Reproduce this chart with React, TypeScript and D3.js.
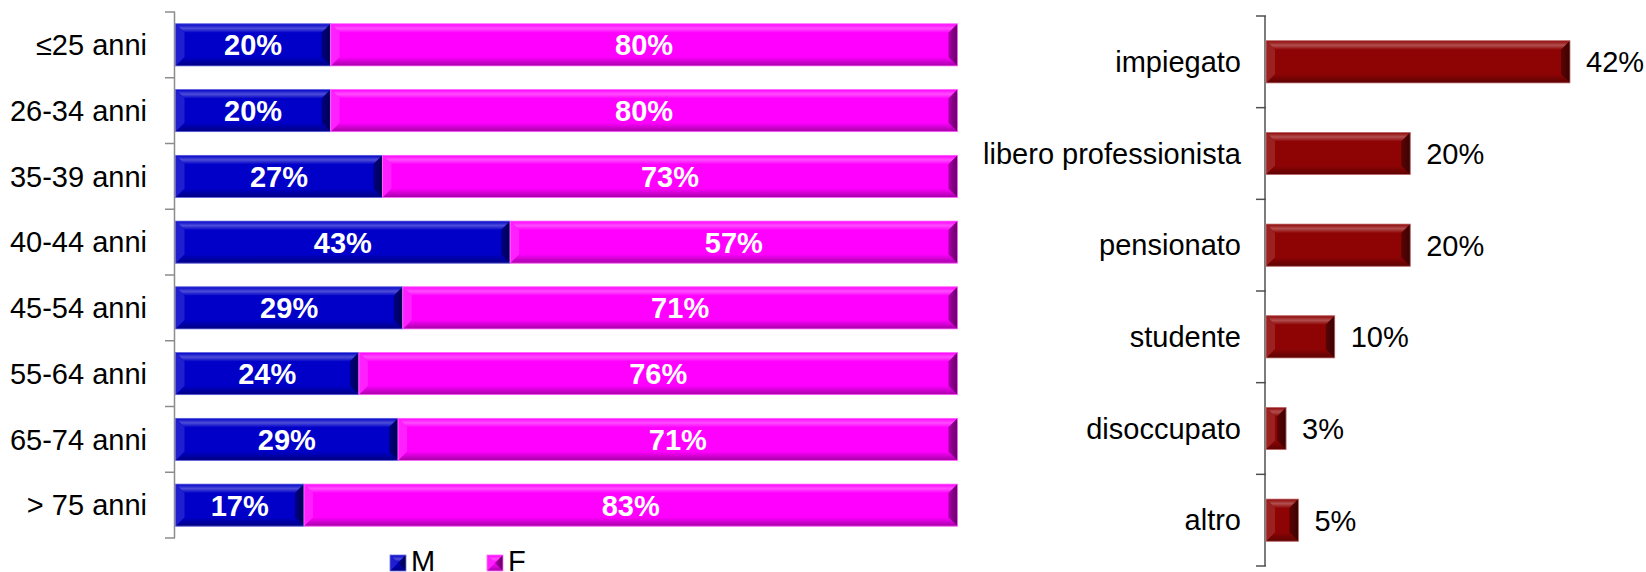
import React from "react";
import * as d3 from "d3";

const ageCategories = ["≤25 anni", "26-34 anni", "35-39 anni", "40-44 anni", "45-54 anni", "55-64 anni", "65-74 anni", "> 75 anni"];
const maleShare = [20, 20, 26.6, 42.9, 29.2, 23.6, 28.6, 16.6];
const femaleShare = [80, 80, 73.4, 57.1, 70.8, 76.4, 71.4, 83.4];
const seriesNames = ["M", "F"];

const jobCategories = ["impiegato", "libero professionista", "pensionato", "studente", "disoccupato", "altro"];
const jobShare = [42, 20, 20, 9.6, 2.9, 4.6];

const BLUE = "#0000c8";
const MAGENTA = "#ff00ff";
const RED = "#8e0404";
const FONT = "'Liberation Sans', Arial, sans-serif";

function Bevel({ x, y, w, h, color, id }: { x: number; y: number; w: number; h: number; color: string; id: string }) {
  const b = Math.min(9, w / 2, h / 2);
  const light = d3.interpolateRgb(color, "#ffffff")(0.3);
  const lightish = d3.interpolateRgb(color, "#ffffff")(0.12);
  const dark = d3.interpolateRgb(color, "#000000")(0.35);
  const darkest = d3.interpolateRgb(color, "#000000")(0.6);
  const edge = d3.interpolateRgb(color, "#ffffff")(0.45);
  const pts = (arr: number[][]) => arr.map((p) => p.join(",")).join(" ");
  return (
    <g>
      <defs>
        <linearGradient id={id + "t"} x1="0" y1="0" x2="0" y2="1">
          <stop offset="0" stopColor={color} />
          <stop offset="0.5" stopColor={light} />
          <stop offset="1" stopColor={color} />
        </linearGradient>
        <linearGradient id={id + "b"} x1="0" y1="0" x2="0" y2="1">
          <stop offset="0" stopColor={color} />
          <stop offset="1" stopColor={dark} />
        </linearGradient>
        <linearGradient id={id + "r"} x1="0" y1="0" x2="1" y2="0">
          <stop offset="0" stopColor={dark} />
          <stop offset="1" stopColor={darkest} />
        </linearGradient>
      </defs>
      <rect x={x} y={y} width={w} height={h} fill={color} />
      <polygon points={pts([[x, y], [x + w, y], [x + w - b, y + b], [x + b, y + b]])} fill={`url(#${id}t)`} />
      <polygon points={pts([[x, y + h], [x + w, y + h], [x + w - b, y + h - b], [x + b, y + h - b]])} fill={`url(#${id}b)`} />
      <polygon points={pts([[x, y], [x + b, y + b], [x + b, y + h - b], [x, y + h]])} fill={lightish} />
      <polygon points={pts([[x + w, y], [x + w - b, y + b], [x + w - b, y + h - b], [x + w, y + h]])} fill={`url(#${id}r)`} />
      <rect x={x} y={y} width={w} height={h} fill="none" stroke={edge} strokeWidth={0.8} />
    </g>
  );
}

export default function App() {
  // Left chart
  const yL = d3.scaleBand<string>().domain(ageCategories).range([12, 538]).paddingInner(0.36).paddingOuter(0.18);
  const xL = d3.scaleLinear().domain([0, 100]).range([174, 957.5]);
  const stepL = yL.step();
  const leftTicks = d3.range(ageCategories.length + 1).map((i) => 12 + i * stepL);

  // Right chart
  const yR = d3.scaleBand<string>().domain(jobCategories).range([16, 566]).paddingInner(0.54).paddingOuter(0.27);
  const xR = d3.scaleLinear().domain([0, 42]).range([1265, 1570]);
  const stepR = yR.step();
  const rightTicks = d3.range(jobCategories.length + 1).map((i) => 16 + i * stepR);

  const fs = 29;

  return (
    <svg width={1646} height={572} style={{ position: "absolute", left: 0, top: 0 }} fontFamily={FONT}>
      <rect width={1646} height={572} fill="#ffffff" />
      {/* Left axis */}
      <line x1={174.5} x2={174.5} y1={12} y2={538} stroke="#8c8c8c" strokeWidth={1.5} />
      {leftTicks.map((t, i) => (
        <line key={i} x1={165} x2={175} y1={t} y2={t} stroke="#8c8c8c" strokeWidth={1.5} />
      ))}
      {ageCategories.map((c, i) => {
        const y = yL(c)!;
        const h = yL.bandwidth();
        const m = maleShare[i];
        const f = femaleShare[i];
        const x0 = Math.max(xL(0), 175.5);
        const x1 = xL(m);
        const x2 = xL(m + f);
        return (
          <g key={c}>
            <text x={147} y={y + h / 2} dy="0.35em" textAnchor="end" fontSize={fs} fill="#000">
              {c}
            </text>
            <Bevel id={`m${i}`} x={x0} y={y} w={x1 - x0} h={h} color={BLUE} />
            <Bevel id={`f${i}`} x={x1} y={y} w={x2 - x1} h={h} color={MAGENTA} />
            <text x={(x0 + x1) / 2} y={y + h / 2} dy="0.36em" textAnchor="middle" fontSize={fs} fontWeight="bold" fill="#fff">
              {Math.round(m)}%
            </text>
            <text x={(x1 + x2) / 2} y={y + h / 2} dy="0.36em" textAnchor="middle" fontSize={fs} fontWeight="bold" fill="#fff">
              {Math.round(f)}%
            </text>
          </g>
        );
      })}
      {/* Legend */}
      {seriesNames.map((s, i) => {
        const lx = 390 + i * 97;
        return (
          <g key={s}>
            <Bevel id={`lg${i}`} x={lx} y={555} w={16} h={16} color={i === 0 ? BLUE : MAGENTA} />
            <text x={lx + 21} y={571} fontSize={fs} fill="#000">
              {s}
            </text>
          </g>
        );
      })}

      {/* Right axis */}
      <line x1={1265} x2={1265} y1={16} y2={566} stroke="#505050" strokeWidth={1.5} />
      {rightTicks.map((t, i) => (
        <line key={i} x1={1256} x2={1266} y1={t} y2={t} stroke="#505050" strokeWidth={1.5} />
      ))}
      {jobCategories.map((c, i) => {
        const y = yR(c)!;
        const h = yR.bandwidth();
        const x0 = xR(0) + 1;
        const x1 = xR(jobShare[i]);
        return (
          <g key={c}>
            <text x={1241} y={y + h / 2} dy="0.35em" textAnchor="end" fontSize={fs} fill="#000">
              {c}
            </text>
            <Bevel id={`r${i}`} x={x0} y={y} w={x1 - x0} h={h} color={RED} />
            <text x={x1 + 16} y={y + h / 2} dy="0.36em" textAnchor="start" fontSize={fs} fill="#000">
              {Math.round(jobShare[i])}%
            </text>
          </g>
        );
      })}
    </svg>
  );
}
